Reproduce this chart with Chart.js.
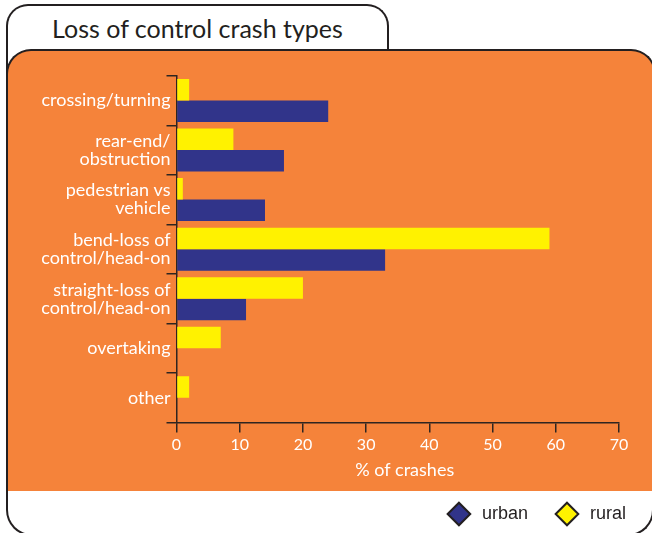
<!DOCTYPE html>
<html>
<head>
<meta charset="utf-8">
<script src="https://cdn.jsdelivr.net/npm/chart.js@4/dist/chart.umd.min.js"></script>
<style>
    body { margin: 0; width: 652px; height: 533px; overflow: hidden; background: #fff; position: relative; font-family: Lato, sans-serif; }
    .frame { position: absolute; box-sizing: border-box; left: 6px; top: 40px; width: 648px; height: 496px; border: 2.5px solid #231f20; border-top: none; border-radius: 0 0 26px 26px; }
    .tab { position: absolute; box-sizing: border-box; left: 6px; top: 4px; width: 383px; height: 60px; border: 2.5px solid #231f20; border-bottom: none; border-radius: 22px 22px 0 0; background: #fff; }
    .tab h1 { margin: 0; height: 44px; line-height: 44px; text-align: center; font-size: 25px; font-weight: normal; color: #231f20; }
    .panel { position: absolute; box-sizing: border-box; left: 6px; top: 49px; width: 650px; height: 442px; background: #f5833a; border: 2.5px solid #231f20; border-bottom: none; border-radius: 25px 25px 0 0; }
    #chart { position: absolute; left: 0; top: 0; }
</style>
</head>
<body>
<div class="frame"></div>
<div class="tab"><h1>Loss of control crash types</h1></div>
<div class="panel"></div>
<canvas id="chart" width="652" height="533"></canvas>
<script>
const categories = [
    ['crossing/turning'],
    ['rear-end/', 'obstruction'],
    ['pedestrian vs', 'vehicle'],
    ['bend-loss of', 'control/head-on'],
    ['straight-loss of', 'control/head-on'],
    ['overtaking'],
    ['other']
];
const rural = [2, 9, 1, 59, 20, 7, 2];
const urban = [24, 17, 14, 33, 11, 0, 0];
const xMin = 0, xMax = 70, xStep = 10;

const YELLOW = '#fff200';
const NAVY = '#31348a';
const AXIS = '#2e2520';
const INK = '#231f20';
const NBSP = '\u00a0';

new Chart(document.getElementById('chart'), {
    type: 'bar',
    data: {
        labels: categories,
        datasets: [
            {label: 'rural', data: rural, backgroundColor: YELLOW, borderWidth: 0},
            {label: 'urban', data: urban, backgroundColor: NAVY, borderWidth: 0}
        ]
    },
    options: {
        indexAxis: 'y',
        responsive: false,
        animation: false,
        categoryPercentage: 0.867,
        barPercentage: 1,
        layout: {padding: {left: 0, right: 16, top: 75.7, bottom: 0}},
        font: {family: 'Lato'},
        scales: {
            x: {
                min: xMin, max: xMax,
                ticks: {stepSize: xStep, color: '#fff', font: {size: 16}, padding: 3},
                grid: {drawOnChartArea: false, tickLength: 10, color: AXIS, lineWidth: 1.5},
                border: {color: AXIS, width: 1.5},
                title: {display: true, text: NBSP.repeat(3) + '% of crashes', color: '#fff', font: {size: 18}, padding: {top: 2, bottom: 13.6}},
                afterFit: s => { s.paddingRight = 33; }
            },
            y: {
                ticks: {color: '#fff', font: {size: 18, lineHeight: 1.0}, padding: -4},
                grid: {drawOnChartArea: false, tickLength: 10, color: AXIS, lineWidth: 1.5},
                border: {color: AXIS, width: 1.5},
                afterFit: s => { s.width = 176.5; }
            }
        },
        plugins: {
            tooltip: {enabled: false},
            legend: {
                position: 'bottom',
                align: 'end',
                labels: {
                    usePointStyle: true,
                    pointStyle: 'rectRot',
                    boxWidth: 18,
                    boxHeight: 16,
                    color: INK,
                    font: {size: 18},
                    generateLabels: chart => Chart.defaults.plugins.legend.labels.generateLabels(chart).map(it => {
                        it.strokeStyle = INK;
                        it.lineWidth = 2;
                        it.text = NBSP + it.text + (it.datasetIndex === 1 ? NBSP.repeat(4) : '');
                        return it;
                    }),
                    sort: (a, b) => b.datasetIndex - a.datasetIndex
                }
            }
        }
    }
});
</script>
</body>
</html>
